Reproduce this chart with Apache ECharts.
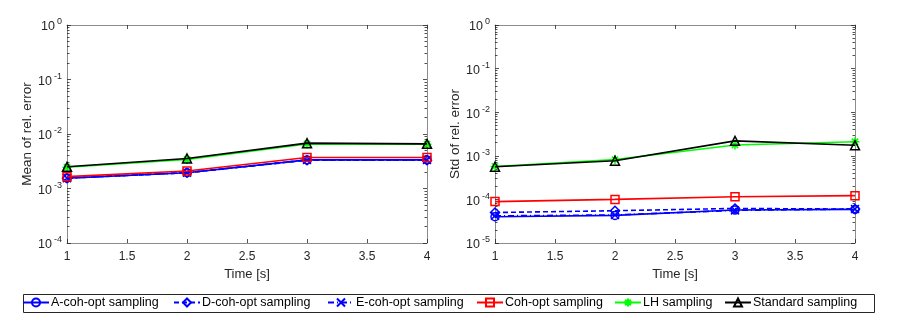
<!DOCTYPE html>
<html>
<head>
<meta charset="utf-8">
<script src="https://cdn.jsdelivr.net/npm/echarts@6/dist/echarts.min.js"></script>
<style>html,body{margin:0;padding:0;background:#fff}#c{width:899px;height:314px}</style>
</head>
<body>
<div id="c"></div>
<script>
// ---- data ----
const times = [1, 2, 3, 4];
const xTicks = [1, 1.5, 2, 2.5, 3, 3.5, 4];
const seriesNames = ['A-coh-opt sampling', 'D-coh-opt sampling', 'E-coh-opt sampling', 'Coh-opt sampling', 'LH sampling', 'Standard sampling'];
// Mean of rel. error
const meanA   = [1.55e-3, 1.95e-3, 3.35e-3, 3.35e-3];
const meanD   = [1.55e-3, 1.95e-3, 3.30e-3, 3.30e-3];
const meanE   = [1.55e-3, 1.95e-3, 3.35e-3, 3.35e-3];
const meanCoh = [1.65e-3, 2.10e-3, 3.70e-3, 3.70e-3];
const meanLH  = [2.45e-3, 3.40e-3, 6.60e-3, 6.50e-3];
const meanStd = [2.50e-3, 3.55e-3, 6.80e-3, 6.60e-3];
// Std of rel. error
const stdA   = [4.0e-5, 4.3e-5, 5.7e-5, 5.9e-5];
const stdD   = [5.0e-5, 5.5e-5, 6.2e-5, 6.0e-5];
const stdE   = [4.2e-5, 4.4e-5, 5.6e-5, 6.0e-5];
const stdCoh = [8.9e-5, 1.0e-4, 1.15e-4, 1.22e-4];
const stdLH  = [5.7e-4, 8.2e-4, 1.77e-3, 2.1e-3];
const stdStd = [5.6e-4, 7.7e-4, 2.2e-3, 1.74e-3];
// y tick values
const leftDecades = [1e-4, 1e-3, 1e-2, 1e-1, 1];
const rightDecades = [1e-5, 1e-4, 1e-3, 1e-2, 1e-1, 1];

// ---- styles ----
const FONT = 'Liberation Sans';
const AXC = '#8c8c8c';
const TXC = '#262626';
const colors = ['#0000ff', '#0000ff', '#0000ff', '#ff0000', '#00ff00', '#000000'];
const lineTypes = ['solid', [5, 3], [6, 3, 1, 3], 'solid', 'solid', 'solid'];
const symbols = [
  'path://M10,5A5,5,0,1,1,0,5A5,5,0,1,1,10,5Z',
  'path://M5,0L10,5L5,10L0,5Z',
  'path://M0,0L10,10M10,0L0,10',
  'path://M0,0L10,0L10,10L0,10Z',
  'path://M5,0L5,10M0,5L10,5M1.5,1.5L8.5,8.5M8.5,1.5L1.5,8.5',
  'path://M5,0L10,10L0,10Z'
];
const symSizes = [8, 9, 8, 8, 9, 9];

function minorVals(decs) {
  const out = [];
  for (let i = 0; i < decs.length - 1; i++) {
    for (let k = 2; k <= 9; k++) out.push(decs[i] * k);
  }
  return out;
}

const grids = [
  {left: 67, top: 25, width: 360, height: 218},
  {left: 495, top: 25, width: 360, height: 218}
];

function xAxes(gi) {
  const base = {
    type: 'value', gridIndex: gi, min: 1, max: 4, interval: 0.5,
    axisLine: {show: true, onZero: false, lineStyle: {color: AXC, width: 1}},
    axisTick: {show: true, inside: true, length: 4, lineStyle: {color: TXC, width: 0.8}},
    splitLine: {show: false}
  };
  return [
    Object.assign({}, base, {
      position: 'bottom',
      axisLabel: {show: true, color: TXC, fontFamily: FONT, fontSize: 12, margin: 8,
        customValues: xTicks, formatter: v => String(v)},
      name: 'Time [s]', nameLocation: 'middle', nameGap: 22,
      nameTextStyle: {color: TXC, fontFamily: FONT, fontSize: 13}
    }),
    Object.assign({}, base, {position: 'top', axisLabel: {show: false}})
  ];
}

function yAxes(gi, decs, name) {
  const minV = decs[0], maxV = decs[decs.length - 1];
  const base = {
    type: 'log', logBase: 10, gridIndex: gi, min: minV, max: maxV,
    splitLine: {show: false}, minorTick: {show: false}
  };
  const major = (pos) => Object.assign({}, base, {
    position: pos,
    axisLine: {show: true, onZero: false, lineStyle: {color: AXC, width: 1}},
    axisTick: {show: true, inside: true, length: 4, customValues: decs, lineStyle: {color: TXC, width: 0.8}}
  });
  const minor = (pos) => Object.assign({}, base, {
    position: pos,
    axisLine: {show: false},
    axisLabel: {show: false},
    axisTick: {show: true, inside: true, length: 2.5, customValues: minorVals(decs), lineStyle: {color: TXC, width: 0.8}}
  });
  const left = major('left');
  left.axisLabel = {
    show: true, margin: 5, customValues: decs,
    formatter: v => '{b|10}{s|' + Math.round(Math.log10(v)) + '}',
    rich: {
      b: {fontSize: 12.5, fontFamily: FONT, color: TXC, padding: [4, 0, 0, 0]},
      s: {fontSize: 9, fontFamily: FONT, color: TXC, padding: [0, 0, 6, 2]}
    }
  };
  left.name = name;
  left.nameLocation = 'middle';
  left.nameGap = 31;
  left.nameTextStyle = {color: TXC, fontFamily: FONT, fontSize: 13.5};
  const right = major('right');
  right.axisLabel = {show: false};
  return [left, minor('left'), right, minor('right')];
}

const meanData = [meanA, meanD, meanE, meanCoh, meanLH, meanStd];
const stdData = [stdA, stdD, stdE, stdCoh, stdLH, stdStd];

function mkSeries(arrs, xi, yi) {
  return arrs.map((arr, i) => ({
    name: seriesNames[i], type: 'line', xAxisIndex: xi, yAxisIndex: yi,
    data: times.map((t, j) => [t, arr[j]]),
    symbol: symbols[i], symbolSize: symSizes[i], symbolKeepAspect: true,
    showAllSymbol: true, animation: false, z: 2 + i,
    color: colors[i],
    lineStyle: {color: colors[i], width: 1.6, type: lineTypes[i]},
    itemStyle: {color: 'rgba(0,0,0,0)', borderColor: colors[i], borderWidth: 1.5},
    emphasis: {disabled: true}
  }));
}

const legendLefts = [22, 173, 327, 476, 614, 724];
const legends = seriesNames.map((n, i) => ({
  data: [n], left: legendLefts[i], top: 296, orient: 'horizontal',
  itemWidth: 26, itemHeight: 10, itemGap: 0, padding: 0,
  selectedMode: false,
  textStyle: {color: '#000', fontFamily: FONT, fontSize: 12.5, padding: [0, 0, 0, -3]}
}));

const option = {
  animation: false,
  backgroundColor: '#fff',
  grid: grids,
  xAxis: [...xAxes(0), ...xAxes(1)],
  yAxis: [...yAxes(0, leftDecades, 'Mean of rel. error'), ...yAxes(1, rightDecades, 'Std of rel. error')],
  legend: legends,
  graphic: [{
    type: 'rect', left: 21, top: 292, shape: {width: 851, height: 18},
    style: {fill: 'none', stroke: '#262626', lineWidth: 1}, silent: true, z: -1
  }],
  series: [...mkSeries(meanData, 0, 0), ...mkSeries(stdData, 2, 4)]
};

const chart = echarts.init(document.getElementById('c'), null, {renderer: 'canvas'});
chart.setOption(option);
</script>
</body>
</html>
